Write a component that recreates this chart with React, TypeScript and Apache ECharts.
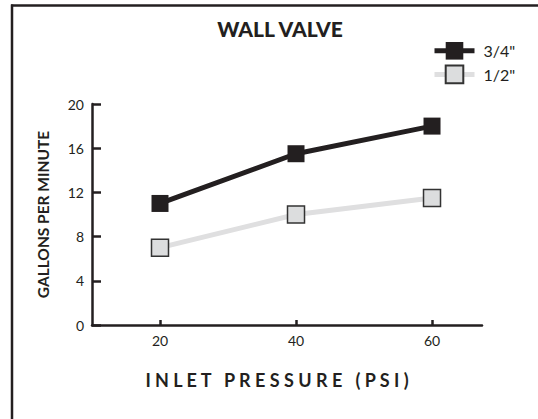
import React, { useEffect, useRef } from "react";
import * as echarts from "echarts";

const pressures = [20, 40, 60];
const series34 = [11, 15.5, 18];
const series12 = [7, 10, 11.5];
const seriesNames = ['3/4"', '1/2"'];
const yTicks = { min: 0, max: 20, interval: 4 };
const xTickValues = [20, 40, 60];

const INK = "#231f20";
const FONT = "Lato, 'Noto Sans', sans-serif";

export default function App() {
  const ref = useRef<HTMLDivElement>(null);
  useEffect(() => {
    if (!ref.current) return;
    const chart = echarts.init(ref.current, null, { renderer: "svg" });
    const toPairs = (vals: number[]) => pressures.map((p, i) => [p, vals[i]]);
    chart.setOption({
      animation: false,
      backgroundColor: "#ffffff",
      textStyle: { fontFamily: FONT, color: INK },
      title: {
        text: "WALL VALVE",
        left: 280,
        textAlign: "center",
        top: 18,
        padding: 0,
        textStyle: { fontFamily: FONT, fontSize: 21, fontWeight: 900, color: INK },
      },
      legend: {
        data: seriesNames,
        orient: "vertical",
        left: 432,
        top: 42,
        padding: 0,
        itemWidth: 40,
        itemHeight: 22,
        itemGap: 5,
        lineStyle: { width: 5 },
        textStyle: { fontFamily: FONT, fontSize: 16, fontWeight: 400, color: INK, padding: [0, 0, 0, 4] },
      },
      grid: { left: 92, right: 56, top: 104, bottom: 94, containLabel: false },
      xAxis: {
        type: "value",
        min: 10,
        max: 67.35,
        name: "I N L E T   P R E S S U R E   ( P S I )",
        nameLocation: "middle",
        nameGap: 46,
        nameTextStyle: { fontFamily: FONT, fontSize: 18, fontWeight: "bold", color: INK, padding: [0, 20, 0, 0] },
        axisLine: { show: true, lineStyle: { color: INK, width: 2.5 } },
        axisTick: { show: true, inside: true, length: 5, customValues: xTickValues, lineStyle: { color: INK, width: 2.5 } },
        axisLabel: { customValues: xTickValues, margin: 8, fontSize: 14, color: INK, fontFamily: FONT },
        splitLine: { show: false },
      },
      yAxis: {
        type: "value",
        min: yTicks.min,
        max: yTicks.max,
        interval: yTicks.interval,
        name: "GALLONS PER MINUTE",
        nameLocation: "middle",
        nameGap: 41,
        nameTextStyle: { fontFamily: FONT, fontSize: 15.5, fontWeight: "bold", color: INK },
        axisLine: { show: true, lineStyle: { color: INK, width: 2.5 } },
        axisTick: { show: true, inside: true, length: 9, lineStyle: { color: INK, width: 2.5 } },
        axisLabel: { margin: 8, fontSize: 14, color: INK, fontFamily: FONT },
        splitLine: { show: false },
      },
      series: [
        {
          name: seriesNames[0],
          type: "line",
          data: toPairs(series34),
          symbol: "rect",
          symbolSize: 17,
          lineStyle: { color: INK, width: 5 },
          itemStyle: { color: INK, borderColor: INK, borderWidth: 0 },
          z: 3,
        },
        {
          name: seriesNames[1],
          type: "line",
          data: toPairs(series12),
          symbol: "rect",
          symbolSize: 17,
          lineStyle: { color: "#dfdfe0", width: 5 },
          itemStyle: { color: "#dcddde", borderColor: "#333333", borderWidth: 1.5 },
          z: 2,
        },
      ],
      graphic: [
        { type: "line", shape: { x1: 11, y1: 5.5, x2: 538, y2: 5.5 }, style: { stroke: INK, lineWidth: 2.5 } },
        { type: "line", shape: { x1: 12, y1: 4.5, x2: 12, y2: 419 }, style: { stroke: INK, lineWidth: 2.5 } },
      ],
    });
    return () => chart.dispose();
  }, []);
  return (
    <div
      ref={ref}
      style={{ position: "fixed", left: 0, top: 0, width: 538, height: 419, background: "#fff" }}
    />
  );
}
